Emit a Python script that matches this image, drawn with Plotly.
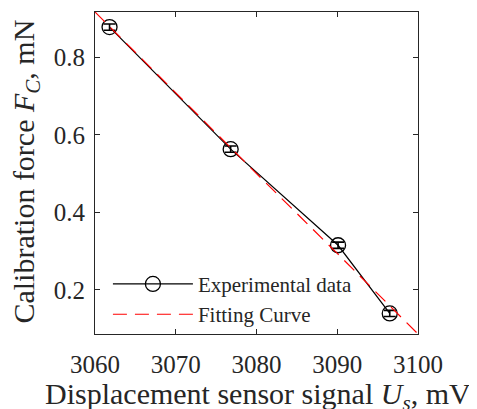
import plotly.graph_objects as go

# Experimental data
exp_x = [3061.8, 3076.8, 3090.1, 3096.5]
exp_y = [0.878, 0.563, 0.315, 0.139]
exp_err = [0.008, 0.008, 0.008, 0.008]

# Fitting curve
fit_x = [3060, 3070, 3080, 3090, 3100]
fit_y = [0.917, 0.708, 0.500, 0.294, 0.086]

x_ticks = [3060, 3070, 3080, 3090, 3100]
y_ticks = [0.2, 0.4, 0.6, 0.8]
y_tick_labels = ["0.2", "0.4", "0.6", "0.8"]

x_title = "Displacement sensor signal <i>U</i><sub><i>s</i></sub>, mV"
y_title = "Calibration force <i>F</i><sub><i>C</i></sub>, mN"

FONT = "Liberation Serif, Times New Roman, serif"
AX = "#262626"

fig = go.Figure()
fig.add_trace(go.Scatter(
    x=exp_x, y=exp_y, mode="lines+markers", name="Experimental data",
    line=dict(color="black", width=1.2),
    marker=dict(symbol="circle-open", size=15, color="black", line=dict(width=1.3)),
    error_y=dict(type="data", array=exp_err, visible=True, color="black", thickness=1.6, width=6),
))
fig.add_trace(go.Scatter(
    x=fit_x, y=fit_y, mode="lines", name="Fitting Curve",
    line=dict(color="#ff0000", width=1.2, dash="14px,8px"),
))

axis_common = dict(
    showline=True, mirror="ticks", linecolor=AX, linewidth=1,
    ticks="inside", ticklen=5, tickcolor=AX, showgrid=False, zeroline=False,
    tickfont=dict(family=FONT, size=25, color="#262626"),
    automargin=False,
)
fig.update_xaxes(
    range=[3060, 3100], tickvals=x_ticks, ticktext=[str(v) for v in x_ticks],
    ticklabelstandoff=8,
    **axis_common,
)
fig.update_yaxes(
    range=[0.086, 0.917], tickvals=y_ticks, ticktext=y_tick_labels,
    ticklabelstandoff=4,
    **axis_common,
)
fig.add_annotation(text=x_title, xref="paper", yref="paper", x=0.505, y=-0.192,
                   xanchor="center", yanchor="middle", showarrow=False,
                   font=dict(family=FONT, size=30, color="#262626"))
fig.add_annotation(text=y_title, xref="paper", yref="paper", x=-0.215, y=0.503,
                   xanchor="center", yanchor="middle", showarrow=False, textangle=-90,
                   font=dict(family=FONT, size=30, color="#262626"))
# page has an 8px body margin, so the figure is made 8px smaller
fig.update_layout(
    width=469, height=401,
    margin=dict(l=87, r=59, t=4, b=75),
    plot_bgcolor="white", paper_bgcolor="white",
    font=dict(family=FONT, color="#262626"),
    showlegend=True,
    legend=dict(
        x=0.04, y=0.218, xanchor="left", yanchor="top",
        bgcolor="rgba(0,0,0,0)", borderwidth=0,
        font=dict(family=FONT, size=21, color="#262626"),
        itemwidth=80, tracegroupgap=0,
    ),
)
fig.write_html("out.html")
